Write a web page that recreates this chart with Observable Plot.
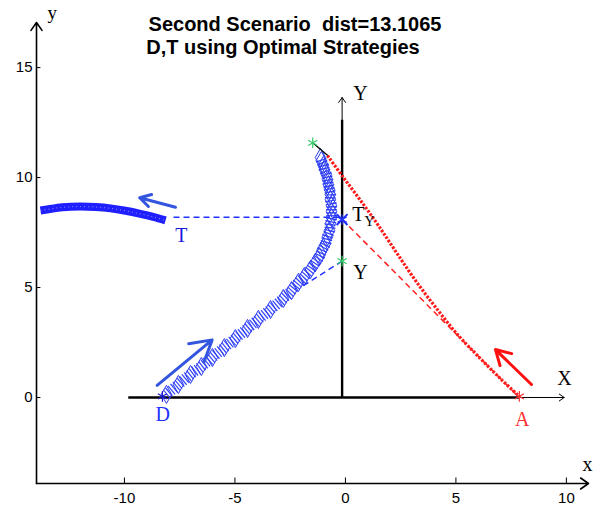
<!DOCTYPE html>
<html>
<head>
<meta charset="utf-8">
<script src="https://cdn.jsdelivr.net/npm/d3@7"></script>
<script src="https://cdn.jsdelivr.net/npm/@observablehq/plot@0.6"></script>
<style>
  html, body { margin: 0; padding: 0; background: #fff; }
  #chart { width: 595px; height: 508px; }
</style>
</head>
<body>
<div id="chart"></div>
<script>
// ---- data ----
const titleLines = ["Second Scenario  dist=13.1065", "D,T using Optimal Strategies"];
const xTicks = [-10, -5, 0, 5, 10];
const yTicks = [0, 5, 10, 15];
const xDomain = [-13.98, 11.0];
const yDomain = [-3.91, 17.05];

// D trajectory (blue diamond band)
const dPathX = [-8.10,-7.56,-7.01,-6.52,-6.02,-5.48,-4.98,-4.43,-3.94,-3.39,-2.81,-2.44,-2.13,-1.86,-1.58,-1.36,-1.18,-1.04,-0.90,-0.81,-0.72,-0.68,-0.63,-0.63,-0.63,-0.68,-0.68,-0.72,-0.77,-0.81,-0.86,-0.95,-1.00,-1.09,-1.13];
const dPathY = [0.14,0.59,1.05,1.41,1.82,2.27,2.68,3.14,3.55,4.00,4.50,4.86,5.23,5.50,5.82,6.14,6.41,6.73,7.00,7.32,7.59,7.91,8.18,8.45,8.73,9.00,9.23,9.45,9.68,9.91,10.14,10.36,10.55,10.77,10.91];

// T trajectory (blue thick band)
const tPathX = [-13.8,-13.3,-12.9,-12.4,-11.99,-11.3,-10.63,-9.95,-9.28,-8.7,-8.14];
const tPathY = [8.50,8.58,8.64,8.67,8.68,8.66,8.60,8.49,8.35,8.21,8.05];

// A trajectory (red dotted)
const aPathX = [-0.81,-0.09,0.72,1.49,2.31,3.17,4.12,5.11,6.11,7.01,7.87];
const aPathY = [11.0,10.0,8.91,7.82,6.59,5.32,4.05,2.82,1.77,0.86,0.05];

// key points
const pointNames = ["D", "A", "TY", "Y", "Top"];
const pointX = [-8.28, 7.87, -0.15, -0.15, -1.48];
const pointY = [0.05, 0.05, 8.09, 6.2, 11.58];
const pointColor = ["#1a1acc", "#ff3030", "#2233ff", "#33cc66", "#33cc66"];

// dashed segments
const dashX1 = [-7.78, -0.15, -0.15];
const dashY1 = [8.2, 8.1, 6.2];
const dashX2 = [-0.15, 7.87, -2.04];
const dashY2 = [8.2, 0, 5.0];
const dashColor = ["#2233ff", "#ff2020", "#2233ff"];
// solid connector from green star
const connX = [-1.48, -0.8];
const connY = [11.58, 11.0];

// direction arrows
const arrX1 = [-8.52, 8.42, -7.69];
const arrY1 = [0.55, 0.59, 8.65];
const arrX2 = [-6.03, 6.79, -9.31];
const arrY2 = [2.62, 2.18, 9.08];
const arrColor = ["#3355e0", "#ff1010", "#3355e0"];

// inner axes
const innerX = [-9.8, 9.9];
const innerXThickEnd = 7.87;
const innerYx = -0.15;
const innerY = [0, 13.64];
const innerYThickEnd = 12.6;

// labels
const labelText = ["T", "T", "Y", "Y", "Y", "X", "D", "A", "y", "x"];
const labelX = [-7.43, 0.59, 1.09, 0.68, 0.68, 9.91, -8.27, 8.0, -13.27, 10.95];
const labelY = [7.36, 8.32, 7.98, 5.66, 13.82, 0.86, -0.76, -0.99, 17.5, -3.05];
const labelColor = ["#1a1add", "#000", "#000", "#000", "#000", "#000", "#2233ff", "#ff3030", "#000", "#000"];
const labelSize = [20, 20, 14, 20, 20, 20, 20, 20, 19, 20];
const labelAnchor = ["middle","middle","middle","middle","middle","middle","middle","middle","middle","end"];

// ---- build tables ----
const dPath = dPathX.map((x, i) => ({x, y: dPathY[i]}));
const tPath = tPathX.map((x, i) => ({x, y: tPathY[i]}));
const aPath = aPathX.map((x, i) => ({x, y: aPathY[i]}));
const points = pointNames.map((n, i) => ({n, x: pointX[i], y: pointY[i], c: pointColor[i]}));
const dashes = dashX1.map((x1, i) => ({x1, y1: dashY1[i], x2: dashX2[i], y2: dashY2[i], c: dashColor[i]}));
const conn = [{x1: connX[0], y1: connY[0], x2: connX[1], y2: connY[1]}];
const arrows = arrX1.map((x1, i) => ({x1, y1: arrY1[i], x2: arrX2[i], y2: arrY2[i], c: arrColor[i]}));
const labels = labelText.map((t, i) => ({t, x: labelX[i], y: labelY[i], c: labelColor[i], s: labelSize[i], a: labelAnchor[i]}));

const outerAxes = [
  {x1: xDomain[0], y1: yDomain[0], x2: xDomain[0], y2: yDomain[1]},
  {x1: xDomain[0], y1: yDomain[0], x2: xDomain[1], y2: yDomain[0]}
];

const serif = "'Liberation Serif', 'Times New Roman', serif";

const marks = [
  // outer axes
  Plot.arrow(outerAxes, {x1: "x1", y1: "y1", x2: "x2", y2: "y2", stroke: "#000", strokeWidth: 1.6, headLength: 9, headAngle: 70}),
  Plot.ruleX(xTicks, {x: d => d, y1: yDomain[0], y2: yDomain[0] + 0.25, stroke: "#000", strokeWidth: 1}),
  Plot.ruleY(yTicks, {y: d => d, x1: xDomain[0], x2: xDomain[0] + 0.2, stroke: "#000", strokeWidth: 1}),
  Plot.axisX(xTicks, {anchor: "bottom", tickSize: 0, tickPadding: 9, fontSize: 15, label: null, tickFormat: d => String(d)}),
  Plot.axisY(yTicks, {anchor: "left", tickSize: 0, tickPadding: 4, fontSize: 15, label: null, tickFormat: d => String(d)}),

  // inner axes
  Plot.arrow([{x1: innerX[0], x2: innerX[1], y: 0}], {x1: "x1", x2: "x2", y1: "y", y2: "y", stroke: "#000", strokeWidth: 1, headLength: 9, headAngle: 70}),
  Plot.ruleY([0], {x1: innerX[0], x2: innerXThickEnd, stroke: "#000", strokeWidth: 2.4}),
  Plot.arrow([{x: innerYx, y1: innerY[0], y2: innerY[1]}], {x1: "x", x2: "x", y1: "y1", y2: "y2", stroke: "#000", strokeWidth: 1, headLength: 9, headAngle: 70}),
  Plot.ruleX([innerYx], {y1: innerY[0], y2: innerYThickEnd, stroke: "#000", strokeWidth: 2.4}),

  // T trajectory band
  Plot.line(tPath, {x: "x", y: "y", curve: "catmull-rom", stroke: "#1f1fff", strokeWidth: 8, strokeLinecap: "butt"}),
  Plot.line(tPath, {x: "x", y: "y", curve: "catmull-rom", stroke: "#fff", strokeWidth: 1, strokeOpacity: 0.5, strokeDasharray: "1,3", strokeLinecap: "butt"}),

  // D trajectory band
  Plot.line(dPath, {x: "x", y: "y", curve: "catmull-rom", stroke: "#3b4bff", strokeWidth: 11, strokeDasharray: "1.3,1.7", strokeLinecap: "butt"}),
  Plot.dot(dPath, {x: "x", y: "y", symbol: "diamond", r: 5.5, stroke: "#2a3af0", strokeWidth: 1, fill: "none"}),

  // A trajectory (red dotted)
  Plot.line(aPath, {x: "x", y: "y", curve: "catmull-rom", stroke: "#ff1a1a", strokeWidth: 3.2, strokeDasharray: "2.5,1.5", strokeLinecap: "butt"}),

  // dashed segments
  Plot.link(dashes, {x1: "x1", y1: "y1", x2: "x2", y2: "y2", stroke: "c", strokeWidth: 1.5, strokeDasharray: "6,4", strokeLinecap: "butt"}),
  Plot.link(conn, {x1: "x1", y1: "y1", x2: "x2", y2: "y2", stroke: "#000", strokeWidth: 1.3}),

  // direction arrows
  Plot.arrow(arrows, {x1: "x1", y1: "y1", x2: "x2", y2: "y2", stroke: "c", strokeWidth: 3, headLength: 14, headAngle: 60}),

  // key points
  Plot.dot(points, {x: "x", y: "y", symbol: "asterisk", r: 5, stroke: "c", strokeWidth: 1.2}),
  Plot.dot(points.filter(p => p.n === "TY"), {x: "x", y: "y", symbol: "times", r: 5, stroke: "c", strokeWidth: 2}),

  // labels
  Plot.text(labels, {x: "x", y: "y", text: "t", fill: "c", fontSize: "s", textAnchor: "a", fontFamily: serif, lineAnchor: "middle"}),

  // title
  Plot.text([titleLines[0]], {frameAnchor: "top", dx: -17.5, dy: 2.5, lineAnchor: "middle", fontSize: 20, fontWeight: "bold", fill: "#000"}),
  Plot.text([titleLines[1]], {frameAnchor: "top", dx: -29.5, dy: 25.5, lineAnchor: "middle", fontSize: 20, fontWeight: "bold", fill: "#000"})
];

const chart = Plot.plot({
  width: 595,
  height: 508,
  marginLeft: 36,
  marginRight: 7,
  marginTop: 22,
  marginBottom: 25,
  x: {domain: xDomain},
  y: {domain: yDomain},
  style: {fontFamily: "'Liberation Sans', Arial, sans-serif", background: "#fff", color: "#000", overflow: "visible"},
  marks
});
document.getElementById("chart").appendChild(chart);
</script>
</body>
</html>
